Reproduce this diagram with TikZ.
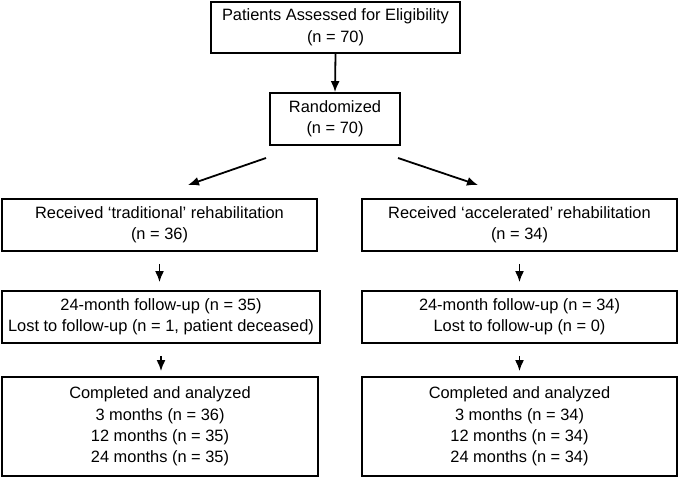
\documentclass[tikz,border=0pt]{standalone}
\usepackage{fontspec}
\setmainfont{Liberation Sans}
\usetikzlibrary{arrows.meta}
\begin{document}
\begin{tikzpicture}[x=1pt,y=-1pt,
  box/.style={draw,line width=1.8pt,align=center,inner sep=2pt,font=\fontsize{16.4}{21.5}\selectfont},
  arrow/.style={line width=1.8pt,-{Latex[length=11pt,width=9pt]}}]
\useasboundingbox (0,0) rectangle (678,477);
\node[box,minimum width=249,minimum height=51] (assess) at (335.5,27.5) {Patients Assessed for Eligibility\\(n = 70)};
\node[box,minimum width=130,minimum height=52] (rand) at (335,119) {Randomized\\(n = 70)};
\node[box,minimum width=315,minimum height=52] (trad) at (159.5,225) {Received ‘traditional’ rehabilitation\\(n = 36)};
\node[box,minimum width=315,minimum height=52] (accel) at (519.5,225) {Received ‘accelerated’ rehabilitation\\(n = 34)};
\node[box,minimum width=318,minimum height=52] (futrad) at (161,317) {24-month follow-up (n = 35)\\Lost to follow-up (n = 1, patient deceased)};
\node[box,minimum width=315,minimum height=52] (fuaccel) at (519.5,317) {24-month follow-up (n = 34)\\Lost to follow-up (n = 0)};
\node[box,minimum width=316,minimum height=99] (donetrad) at (160,426.5) {Completed and analyzed\\3 months (n = 36)\\12 months (n = 35)\\24 months (n = 35)};
\node[box,minimum width=315,minimum height=99] (doneaccel) at (519.5,426.5) {Completed and analyzed\\3 months (n = 34)\\12 months (n = 34)\\24 months (n = 34)};

\coordinate (splitl) at (266,158);
\coordinate (splitr) at (398,158);
\coordinate (headl) at (188,185);
\coordinate (headr) at (478,185);

\draw[arrow] (assess.south) -- (rand.north);
\draw[arrow] (splitl) -- (headl);
\draw[arrow] (splitr) -- (headr);
\draw[arrow,shorten <=12pt,shorten >=8pt] (trad.south) -- (trad.south |- futrad.north);
\draw[arrow,shorten <=12pt,shorten >=8pt] (accel.south) -- (accel.south |- fuaccel.north);
\draw[arrow,shorten <=12pt,shorten >=5pt] (futrad.south) -- (futrad.south |- donetrad.north);
\draw[arrow,shorten <=12pt,shorten >=5pt] (fuaccel.south) -- (fuaccel.south |- doneaccel.north);
\end{tikzpicture}
\end{document}
